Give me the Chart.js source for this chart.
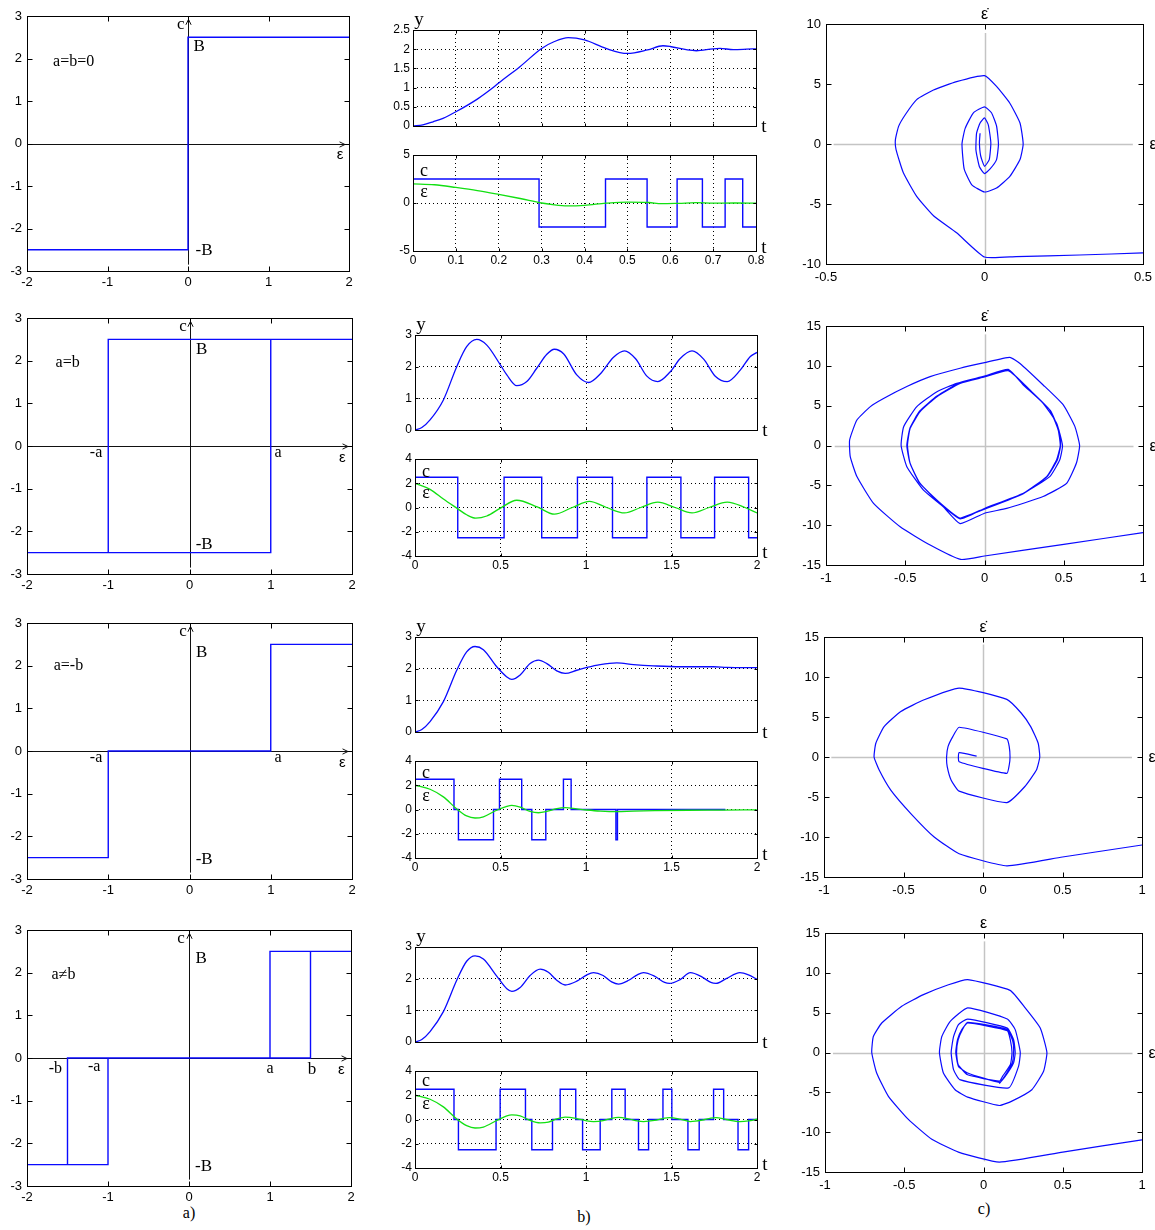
<!DOCTYPE html>
<html><head><meta charset="utf-8">
<script src="https://cdn.jsdelivr.net/npm/chart.js@4.4.0/dist/chart.umd.min.js"></script>
<style>
html,body{margin:0;padding:0;background:#fff;width:1155px;height:1230px;overflow:hidden;position:relative}
canvas{position:absolute}
.lbl{position:absolute;font:16px "Liberation Serif","Times New Roman",serif;transform:translate(-50%,-50%);color:#000}
</style></head><body>
<div class="lbl" style="left:189px;top:1213px">a)</div>
<div class="lbl" style="left:584px;top:1217px">b)</div>
<div class="lbl" style="left:984px;top:1209px">c)</div>
<script>
// ---------------- DATA ----------------
// column a) : static characteristics c(ε)
const relayX1 = [-2, 0, 0, 2];
const relayY1 = [-2.5, -2.5, 2.5, 2.5];
const relayX2 = [-2, 1, 1, 2, -1, -1];
const relayY2 = [-2.5, -2.5, 2.5, 2.5, 2.5, -2.5];
const relayX3 = [-2, -1, -1, 1, 1, 2];
const relayY3 = [-2.5, -2.5, 0, 0, 2.5, 2.5];
const relayX4 = [-2, -1, -1, -1.5, -1.5, -1.5, 1.5, 1.5, 2, 1, 1];
const relayY4 = [-2.5, -2.5, 0, 0, -2.5, 0, 0, 2.5, 2.5, 2.5, 0];

// column b) row 1
const t1 = [0, 0.023, 0.047, 0.07, 0.1, 0.15, 0.187, 0.2, 0.25, 0.3, 0.33, 0.362, 0.4, 0.45, 0.5, 0.547, 0.583, 0.6, 0.64, 0.661, 0.7, 0.716, 0.747, 0.778, 0.8];
const y1 = [0, 0.03, 0.11, 0.2, 0.37, 0.7, 1.0, 1.12, 1.55, 2.02, 2.2, 2.3, 2.24, 2.02, 1.89, 1.98, 2.09, 2.07, 1.98, 1.96, 2.01, 2.02, 1.99, 2.0, 2.01];
const e1t = [0, 0.05, 0.1, 0.15, 0.2, 0.25, 0.3, 0.33, 0.36, 0.4, 0.45, 0.5, 0.55, 0.58, 0.62, 0.66, 0.7, 0.75, 0.8];
const e1 = [2.0, 1.9, 1.62, 1.3, 0.9, 0.47, 0.0, -0.2, -0.3, -0.24, -0.02, 0.1, 0.05, -0.07, -0.03, 0.03, -0.01, 0.0, -0.01];
const c1t = [0, 0.294, 0.449, 0.546, 0.616, 0.675, 0.728, 0.769, 0.8];
const c1 = [2.5, -2.5, 2.5, -2.5, 2.5, -2.5, 2.5, -2.5, -2.5];

// column b) row 2
const t2 = [0, 0.04, 0.088, 0.166, 0.244, 0.302, 0.361, 0.42, 0.5, 0.537, 0.595, 0.654, 0.712, 0.771, 0.815, 0.87, 0.946, 1.015, 1.083, 1.161, 1.225, 1.29, 1.356, 1.42, 1.493, 1.551, 1.62, 1.688, 1.756, 1.826, 1.902, 1.961, 2.0];
const y2 = [0, 0.08, 0.32, 0.95, 2.0, 2.63, 2.86, 2.68, 2.05, 1.74, 1.4, 1.53, 1.95, 2.39, 2.55, 2.4, 1.74, 1.5, 1.77, 2.3, 2.5, 2.25, 1.7, 1.53, 1.84, 2.26, 2.5, 2.24, 1.7, 1.53, 1.89, 2.32, 2.45];
const e2t = [0, 0.088, 0.166, 0.244, 0.302, 0.355, 0.42, 0.5, 0.595, 0.715, 0.815, 0.92, 1.02, 1.12, 1.225, 1.32, 1.42, 1.52, 1.62, 1.72, 1.826, 1.93, 2.0];
const e2 = [2.0, 1.5, 0.7, -0.05, -0.6, -0.88, -0.7, -0.05, 0.6, 0.05, -0.55, 0.0, 0.5, 0.0, -0.45, 0.0, 0.45, 0.0, -0.45, 0.0, 0.45, 0.0, -0.45];
const c2t = [0, 0.25, 0.521, 0.741, 0.95, 1.155, 1.356, 1.555, 1.752, 1.951, 2.0];
const c2 = [2.5, -2.5, 2.5, -2.5, 2.5, -2.5, 2.5, -2.5, 2.5, -2.5, -2.5];

// column b) row 3
const t3 = [0, 0.04, 0.088, 0.166, 0.244, 0.302, 0.351, 0.4, 0.478, 0.537, 0.566, 0.615, 0.673, 0.722, 0.771, 0.829, 0.878, 0.946, 1.005, 1.083, 1.18, 1.278, 1.395, 1.551, 1.746, 1.824, 2.0];
const y3 = [0, 0.08, 0.33, 0.96, 1.95, 2.53, 2.7, 2.6, 2.06, 1.74, 1.66, 1.8, 2.16, 2.27, 2.16, 1.93, 1.85, 1.95, 2.04, 2.13, 2.18, 2.13, 2.09, 2.06, 2.06, 2.04, 2.03];
const e3t = [0, 0.088, 0.166, 0.244, 0.302, 0.351, 0.4, 0.478, 0.537, 0.566, 0.615, 0.673, 0.722, 0.771, 0.829, 0.878, 0.946, 1.005, 1.083, 1.18, 1.278, 1.4, 1.6, 1.8, 2.0];
const e3 = [2.0, 1.67, 1.04, 0.05, -0.53, -0.7, -0.6, -0.06, 0.26, 0.34, 0.2, -0.16, -0.27, -0.16, 0.07, 0.15, 0.05, -0.04, -0.13, -0.18, -0.13, -0.09, -0.06, -0.05, -0.03];
const c3t = [0, 0.228, 0.254, 0.459, 0.494, 0.624, 0.683, 0.765, 0.868, 0.913, 1.175, 1.184, 1.815];
const c3 = [2.5, 0, -2.5, 0, 2.5, 0, -2.5, 0, 2.5, 0, -2.5, 0, 0];

// column b) row 4
const t4 = [0, 0.04, 0.088, 0.166, 0.244, 0.302, 0.351, 0.4, 0.478, 0.537, 0.566, 0.615, 0.673, 0.732, 0.78, 0.829, 0.878, 0.946, 1.005, 1.044, 1.1, 1.15, 1.19, 1.25, 1.3, 1.336, 1.4, 1.46, 1.488, 1.55, 1.61, 1.68, 1.73, 1.76, 1.82, 1.9, 1.95, 2.0];
const y4 = [0, 0.08, 0.33, 0.96, 1.95, 2.55, 2.72, 2.62, 2.08, 1.68, 1.6, 1.72, 2.1, 2.3, 2.2, 1.95, 1.8, 1.92, 2.12, 2.19, 2.1, 1.9, 1.83, 1.95, 2.12, 2.19, 2.08, 1.88, 1.85, 1.97, 2.19, 2.05, 1.88, 1.85, 2.0, 2.19, 2.12, 1.98];
const e4t = [0, 0.088, 0.166, 0.244, 0.302, 0.351, 0.4, 0.478, 0.537, 0.566, 0.615, 0.673, 0.732, 0.78, 0.829, 0.878, 0.946, 1.005, 1.044, 1.1, 1.15, 1.19, 1.25, 1.3, 1.336, 1.4, 1.46, 1.488, 1.55, 1.61, 1.68, 1.73, 1.76, 1.82, 1.9, 1.95, 2.0];
const e4 = [2, 1.67, 1.04, 0.05, -0.5, -0.7, -0.62, -0.08, 0.3, 0.38, 0.3, -0.08, -0.28, -0.22, 0.05, 0.2, 0.08, -0.12, -0.17, -0.1, 0.1, 0.17, 0.05, -0.12, -0.17, -0.08, 0.12, 0.15, 0.03, -0.17, -0.05, 0.12, 0.15, 0, -0.17, -0.12, 0.02];
const c4t = [0, 0.228, 0.254, 0.474, 0.498, 0.646, 0.683, 0.804, 0.849, 0.94, 0.98, 1.083, 1.151, 1.229, 1.307, 1.366, 1.45, 1.502, 1.596, 1.662, 1.746, 1.805, 1.889, 1.951, 2.0];
const c4 = [2.5, 0, -2.5, 0, 2.5, 0, -2.5, 0, 2.5, 0, -2.5, 0, 2.5, 0, -2.5, 0, 2.5, 0, -2.5, 0, 2.5, 0, -2.5, 0, 0];

// column c) phase portraits (ε, dε/dt)
const p1x = [0.5, 0.3, 0.1, 0, -0.088, -0.16, -0.214, -0.256, -0.279, -0.281, -0.271, -0.25, -0.214, -0.161, -0.088, 0, 0.038, 0.08, 0.112, 0.122, 0.112, 0.08, 0.038, 0, -0.04, -0.064, -0.071, -0.061, -0.035, 0, 0.022, 0.038, 0.044, 0.038, 0.017, 0, -0.016, -0.027, -0.025, -0.014, 0, 0.012, 0.02, 0.015, 0, -0.012, -0.016, -0.014];
const p1y = [-9.08, -9.25, -9.38, -9.42, -7.4, -6.0, -4.36, -2.4, -0.47, 0.36, 1.47, 2.44, 3.7, 4.5, 5.2, 5.7, 4.8, 3.4, 1.75, 0, -1.3, -2.7, -3.67, -4.0, -3.4, -2.1, 0, 1.3, 2.6, 3.1, 2.6, 1.5, 0, -1.3, -2.1, -2.47, -1.9, -0.5, 0.9, 1.75, 2.17, 1.6, 0.1, -1.3, -1.86, -1.0, 0.1, 0.9];

const p2x = [1, 0.5, 0, -0.15, -0.343, -0.532, -0.7, -0.805, -0.847, -0.851, -0.805, -0.72, -0.637, -0.49, -0.343, -0.154, 0, 0.16, 0.224, 0.37, 0.497, 0.57, 0.6, 0.58, 0.518, 0.37, 0.14, 0, -0.154, -0.26, -0.385, -0.49, -0.526, -0.51, -0.427, -0.3, -0.175, 0, 0.15, 0.245, 0.37, 0.455, 0.492, 0.475, 0.412, 0.245, 0, -0.154, -0.28, -0.406, -0.469, -0.486, -0.469, -0.406, -0.3, -0.154, 0, 0.15, 0.287, 0.412, 0.465, 0.478, 0.455, 0.392, 0.245, 0, -0.154, -0.28, -0.41, -0.47, -0.49, -0.47, -0.41, -0.3, -0.154, 0, 0.15, 0.29, 0.415, 0.47, 0.48, 0.46, 0.395, 0.245, 0, -0.154];
const p2y = [-10.94, -12.4, -13.87, -14.3, -12.5, -10.2, -7.26, -3.9, -1.4, 0.69, 3.2, 4.88, 5.9, 7.4, 8.64, 9.7, 10.4, 11.06, 10.3, 7.6, 5.1, 2.4, 0, -2.2, -4.75, -6.4, -7.9, -8.5, -9.8, -7.7, -5.6, -2.66, 0, 2.36, 4.88, 6.76, 7.8, 8.7, 9.55, 7.6, 5.3, 2.8, 0, -1.8, -3.9, -6.0, -7.9, -9.2, -7.3, -4.76, -2.26, 0, 2.15, 4.25, 6.13, 7.8, 8.6, 9.4, 6.95, 4.45, 1.95, 0, -1.8, -3.9, -6.0, -7.9, -9.1, -7.2, -4.7, -2.2, 0, 2.2, 4.3, 6.2, 7.9, 8.65, 9.45, 6.9, 4.4, 1.9, 0, -1.8, -3.9, -6.05, -8.0, -9.15];

const p3x = [1, 0.5, 0.15, -0.15, -0.307, -0.454, -0.58, -0.653, -0.685, -0.674, -0.622, -0.517, -0.37, -0.15, 0.15, 0.24, 0.3, 0.347, 0.357, 0.336, 0.262, 0.15, -0.15, -0.2, -0.225, -0.229, -0.22, -0.19, -0.15, 0.15, 0.165, 0.17, 0.165, 0.15, -0.15, -0.15, -0.04];
const p3y = [-11.0, -12.5, -13.6, -12.1, -10.0, -7.07, -4.14, -1.63, 0, 1.72, 3.8, 5.69, 7.15, 8.62, 7.2, 5.5, 3.8, 1.72, 0, -1.63, -3.72, -5.7, -4.27, -2.9, -1.2, 0, 1.3, 2.55, 3.72, 2.26, 1.3, 0, -1.0, -2.05, -0.59, 0.54, 0.1];

const p4x = [1, 0.5, 0.1, -0.158, -0.326, -0.474, -0.6, -0.674, -0.705, -0.695, -0.642, -0.516, -0.379, -0.221, -0.1, 0.168, 0.263, 0.358, 0.4, 0.379, 0.305, 0.179, 0.1, -0.1, -0.179, -0.253, -0.278, -0.263, -0.21, -0.1, 0.15, 0.2, 0.232, 0.221, 0.158, -0.15, -0.189, -0.204, -0.189, -0.158, -0.1, 0.15, 0.19, 0.2, 0.19, 0.137, 0.1, -0.1, -0.158, -0.175, -0.164, -0.137, -0.1, 0.15, 0.17, 0.18, 0.17, 0.12, 0.1, -0.1, -0.16, -0.17, -0.16, -0.13, -0.1, 0.15, 0.185, 0.19, 0.18, 0.13, 0.1];
const p4y = [-10.96, -12.5, -13.75, -12.5, -10.9, -8.4, -5.5, -2.57, 0, 2.0, 3.7, 5.8, 7.26, 8.5, 9.15, 7.8, 5.6, 3.07, 0, -2.36, -4.67, -6.1, -6.65, -5.6, -4.67, -2.57, 0, 2.0, 3.9, 5.6, 4.2, 2.87, 0, -1.74, -4.45, -3.4, -2.15, 0, 2.0, 3.5, 4.2, 3.07, 1.6, 0, -1.3, -3.0, -3.75, -2.57, -1.74, 0, 1.6, 2.87, 3.7, 2.75, 1.5, 0, -1.5, -3.0, -3.6, -2.8, -1.5, 0, 1.6, 3.0, 3.8, 2.9, 1.4, 0, -1.4, -3.1, -3.9];

// tick labels
const aTicksX = [-2, -1, 0, 1, 2];
const aTicksY = [-3, -2, -1, 0, 1, 2, 3];
const b1TicksX = [0, 0.1, 0.2, 0.3, 0.4, 0.5, 0.6, 0.7, 0.8];
const b1TicksYUp = [0, 0.5, 1, 1.5, 2, 2.5];
const b1TicksYLo = [-5, 0, 5];
const bTicksX = [0, 0.5, 1, 1.5, 2];
const bTicksYUp = [0, 1, 2, 3];
const bTicksYLo = [-4, -2, 0, 2, 4];
const c1TicksX = [-0.5, 0, 0.5];
const c1TicksY = [-10, -5, 0, 5, 10];
const cTicksX = [-1, -0.5, 0, 0.5, 1];
const cTicksY = [-15, -10, -5, 0, 5, 10, 15];

// ---------------- RENDERING ----------------
const BLUE = '#0a0aff', GREEN = '#12e012';
const SANS = '"Liberation Sans", Arial, sans-serif';
const SERIF = '"Liberation Serif", "Times New Roman", serif';
const fS = (n) => n + 'px ' + SERIF;
const fA = (n) => n + 'px ' + SANS;
const pts = (xs, ys) => xs.map((x, i) => ({x, y: ys[i]}));

const framePlugin = {
  id: 'frame',
  beforeDatasetsDraw(chart, args, o) {
    const {ctx, scales: {x: sx, y: sy}} = chart;
    ctx.save();
    (o.axes || []).forEach(ax => {
      let x1 = sx.getPixelForValue(ax.x1), x2 = sx.getPixelForValue(ax.x2);
      let y1 = sy.getPixelForValue(ax.y1), y2 = sy.getPixelForValue(ax.y2);
      if (ax.y1 === ax.y2) { y1 = y2 = Math.round(y1) + 0.5; }
      if (ax.x1 === ax.x2) { x1 = x2 = Math.round(x1) + 0.5; }
      ctx.strokeStyle = ax.color; ctx.lineWidth = ax.width;
      ctx.beginPath(); ctx.moveTo(x1, y1); ctx.lineTo(x2, y2);
      if (ax.arrow) {
        const a = Math.atan2(y2 - y1, x2 - x1), s = 6;
        ctx.moveTo(x2 - s * Math.cos(a - 0.45), y2 - s * Math.sin(a - 0.45));
        ctx.lineTo(x2, y2);
        ctx.lineTo(x2 - s * Math.cos(a + 0.45), y2 - s * Math.sin(a + 0.45));
      }
      ctx.stroke();
    });
    ctx.restore();
  },
  afterDraw(chart, args, o) {
    const {ctx, chartArea: a, scales: {x: sx, y: sy}} = chart;
    ctx.save();
    ctx.strokeStyle = '#000'; ctx.lineWidth = 1;
    const tl = o.tick || 4;
    const L = Math.round(a.left) + 0.5, R = Math.round(a.right) + 0.5, T = Math.round(a.top) + 0.5, B = Math.round(a.bottom) + 0.5;
    ctx.beginPath();
    sx.ticks.forEach(t => { const p = Math.round(sx.getPixelForValue(t.value)) + 0.5; ctx.moveTo(p, T); ctx.lineTo(p, T + tl); ctx.moveTo(p, B); ctx.lineTo(p, B - tl); });
    sy.ticks.forEach(t => { const p = Math.round(sy.getPixelForValue(t.value)) + 0.5; ctx.moveTo(L, p); ctx.lineTo(L + tl, p); ctx.moveTo(R, p); ctx.lineTo(R - tl, p); });
    ctx.stroke();
    ctx.strokeRect(L, T, R - L, B - T);
    (o.texts || []).forEach(t => {
      const px = (t.x === 'l' ? a.left : t.x === 'r' ? a.right : sx.getPixelForValue(t.x)) + (t.dx || 0);
      const py = (t.y === 't' ? a.top : t.y === 'b' ? a.bottom : sy.getPixelForValue(t.y)) + (t.dy || 0);
      ctx.font = t.f; ctx.fillStyle = '#000'; ctx.textAlign = 'center'; ctx.textBaseline = 'middle';
      ctx.fillText(t.t, px, py);
    });
    ctx.restore();
  }
};

function panel(box, o) {
  const L = 48, R = 32, T = 26, B = 26;
  const W = box[2] - box[0], H = box[3] - box[1];
  const cv = document.createElement('canvas');
  cv.width = W + L + R; cv.height = H + T + B;
  cv.style.left = (box[0] - L) + 'px'; cv.style.top = (box[1] - T) + 'px';
  cv.style.width = cv.width + 'px'; cv.style.height = cv.height + 'px';
  document.body.appendChild(cv);
  const tickFont = {family: SANS, size: o.fs || 13};
  const mk = (arr) => (s) => { s.ticks = arr.map(v => ({value: v, label: String(v)})); };
  return new Chart(cv, {
    type: 'scatter',
    data: {datasets: o.datasets},
    options: {
      responsive: false, animation: false, devicePixelRatio: 1, events: [],
      layout: {padding: {left: 0, top: T, right: R, bottom: 0}},
      plugins: {legend: {display: false}, tooltip: {enabled: false}, frame: o.frame},
      scales: {
        x: {type: 'linear', position: 'bottom', min: o.tx[0], max: o.tx[o.tx.length - 1],
          afterBuildTicks: mk(o.tx),
          ticks: {display: o.xLabels !== false, font: tickFont, color: '#000', padding: o.xPad, maxRotation: 0, minRotation: 0, autoSkip: false, callback: v => String(v)},
          grid: o.grid ? {display: true, color: '#000', lineWidth: 1, drawTicks: false} : {display: false, drawTicks: false},
          border: {display: false, dash: o.grid ? [1, 3] : []},
          afterFit: s => { s.height = B; s.paddingLeft = 0; s.paddingRight = 0; s.paddingTop = 0; s.paddingBottom = 0; }},
        y: {type: 'linear', position: 'left', min: o.ty[0], max: o.ty[o.ty.length - 1],
          afterBuildTicks: mk(o.ty),
          ticks: {font: tickFont, color: '#000', padding: o.yPad, autoSkip: false, callback: v => String(v)},
          grid: o.grid ? {display: true, color: '#000', lineWidth: 1, drawTicks: false} : {display: false, drawTicks: false},
          border: {display: false, dash: o.grid ? [1, 3] : []},
          afterFit: s => { s.width = L; s.paddingLeft = 0; s.paddingRight = 0; s.paddingTop = 0; s.paddingBottom = 0; }}
      }
    },
    plugins: [framePlugin]
  });
}

const line = (data, color, extra) => Object.assign({data, borderColor: color, borderWidth: 1.3, pointRadius: 0, showLine: true, fill: false, tension: 0}, extra || {});

// ---- column a ----
const aCfg = [
  {box: [27, 16, 349, 271], xs: relayX1, ys: relayY1, vb: -2.85,
   texts: [['a=b=0', -1.42, 1.93, fS(16)], ['c', -0.09, 2.79, fS(17)], ['B', 0.14, 2.27, fS(17)], ['-B', 0.2, -2.52, fS(17)], ['ε', 1.89, -0.27, fA(15)]]},
  {box: [27, 318, 352, 574], xs: relayX2, ys: relayY2, vb: -2.85,
   texts: [['a=b', -1.5, 1.95, fS(16)], ['c', -0.08, 2.79, fS(17)], ['B', 0.15, 2.25, fS(17)], ['-B', 0.18, -2.3, fS(17)], ['-a', -1.15, -0.17, fS(16)], ['a', 1.09, -0.17, fS(16)], ['ε', 1.88, -0.28, fA(15)]]},
  {box: [27, 623, 352, 879], xs: relayX3, ys: relayY3, vb: -2.85,
   texts: [['a=-b', -1.49, 2.0, fS(16)], ['c', -0.08, 2.8, fS(17)], ['B', 0.15, 2.3, fS(17)], ['-B', 0.18, -2.55, fS(17)], ['-a', -1.15, -0.17, fS(16)], ['a', 1.09, -0.17, fS(16)], ['ε', 1.88, -0.28, fA(15)]]},
  {box: [27, 930, 351, 1186], xs: relayX4, ys: relayY4, vb: -2.85,
   texts: [['a≠b', -1.55, 1.95, fS(16)], ['c', -0.1, 2.8, fS(17)], ['B', 0.15, 2.32, fS(17)], ['-B', 0.18, -2.55, fS(17)], ['-b', -1.65, -0.26, fS(16)], ['-a', -1.17, -0.21, fS(16)], ['a', 1.0, -0.26, fS(16)], ['b', 1.52, -0.28, fS(17)], ['ε', 1.88, -0.28, fA(15)]]}
];
aCfg.forEach(c => panel(c.box, {
  tx: aTicksX, ty: aTicksY, fs: 13, xPad: 4, yPad: 5,
  datasets: [line(pts(c.xs, c.ys), BLUE, {borderWidth: 1.4})],
  frame: {tick: 5,
    axes: [{x1: -1.95, y1: 0, x2: 1.95, y2: 0, color: '#111', width: 1, arrow: true},
           {x1: 0, y1: c.vb, x2: 0, y2: 2.92, color: '#111', width: 1, arrow: true}],
    texts: c.texts.map(t => ({t: t[0], x: t[1], y: t[2], f: t[3]}))}
}));

// ---- column b ----
const bCfg = [
  {up: [413, 30, 756, 126], lo: [413, 155, 756, 251], tx: b1TicksX, tyU: b1TicksYUp, tyL: b1TicksYLo,
   t: t1, y: y1, et: e1t, e: e1, ct: c1t, c: c1, cdy: 16, edy: 37},
  {up: [415, 335, 757, 430], lo: [415, 459, 757, 556], tx: bTicksX, tyU: bTicksYUp, tyL: bTicksYLo,
   t: t2, y: y2, et: e2t, e: e2, ct: c2t, c: c2, cdy: 13, edy: 34},
  {up: [415, 637, 757, 732], lo: [415, 761, 757, 858], tx: bTicksX, tyU: bTicksYUp, tyL: bTicksYLo,
   t: t3, y: y3, et: e3t, e: e3, ct: c3t, c: c3, cdy: 12, edy: 35},
  {up: [415, 947, 757, 1042], lo: [415, 1071, 757, 1168], tx: bTicksX, tyU: bTicksYUp, tyL: bTicksYLo,
   t: t4, y: y4, et: e4t, e: e4, ct: c4t, c: c4, cdy: 10, edy: 33}
];
bCfg.forEach(c => {
  panel(c.up, {
    tx: c.tx, ty: c.tyU, fs: 12, xLabels: false, xPad: 2, yPad: 3, grid: true,
    datasets: [line(pts(c.t, c.y), BLUE, {cubicInterpolationMode: 'monotone'})],
    frame: {tick: 3, texts: [{t: 'y', x: 'l', y: 't', dx: 6, dy: -10, f: fS(19)}, {t: 't', x: 'r', y: 'b', dx: 8, dy: 1, f: fS(19)}]}
  });
  panel(c.lo, {
    tx: c.tx, ty: c.tyL, fs: 12, xPad: 2, yPad: 3, grid: true,
    datasets: [line(pts(c.et, c.e), GREEN, {cubicInterpolationMode: 'monotone'}),
               line(pts(c.ct, c.c), BLUE, {stepped: true, borderWidth: 1.4})],
    frame: {tick: 3, texts: [{t: 'c', x: 'l', y: 't', dx: 11, dy: c.cdy, f: fS(18)}, {t: 'ε', x: 'l', y: 't', dx: 11, dy: c.edy, f: fS(18)}, {t: 't', x: 'r', y: 'b', dx: 8, dy: -3, f: fS(19)}]}
  });
});

// ---- column c ----
const cCfg = [
  {box: [826, 24, 1143, 264], xs: p1x, ys: p1y, tx: c1TicksX, ty: c1TicksY, h: [-0.476, 0.468], v: [-10, 9.25], lab: 'ε̇'},
  {box: [826, 326, 1143, 565], xs: p2x, ys: p2y, tx: cTicksX, ty: cTicksY, h: [-0.945, 0.94], v: [-15, 13.95], lab: 'ε̇'},
  {box: [824, 637, 1142, 877], xs: p3x, ys: p3y, tx: cTicksX, ty: cTicksY, h: [-0.954, 0.937], v: [-13.97, 14.06], lab: 'ε̇'},
  {box: [825, 933, 1142, 1172], xs: p4x, ys: p4y, tx: cTicksX, ty: cTicksY, h: [-0.95, 0.94], v: [-13.66, 13.95], lab: 'ε'}
];
cCfg.forEach(c => panel(c.box, {
  tx: c.tx, ty: c.ty, fs: 13, xPad: 6, yPad: 5,
  datasets: [line(pts(c.xs, c.ys), BLUE, {tension: 0.15, borderWidth: 1.2})],
  frame: {tick: 5,
    axes: [{x1: c.h[0], y1: 0, x2: c.h[1], y2: 0, color: '#c4c4c4', width: 1.5},
           {x1: 0, y1: c.v[0], x2: 0, y2: c.v[1], color: '#c4c4c4', width: 1.5}],
    texts: [{t: c.lab, x: 0, y: 't', dy: -9, f: fA(16)}, {t: 'ε', x: 'r', y: 0, dx: 10, dy: 1, f: fA(16)}]}
}));
</script>
</body></html>
